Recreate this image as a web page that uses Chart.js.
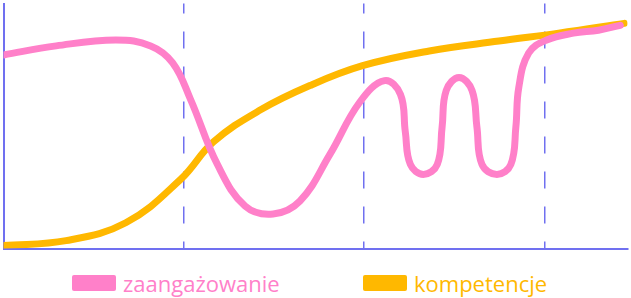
<!DOCTYPE html>
<html>
<head>
<meta charset="utf-8">
<script src="https://cdn.jsdelivr.net/npm/chart.js@4"></script>
<style>
  body { margin: 0; background: #fff; }
  #wrap { position: relative; width: 631px; height: 298px; }
  .item { position: absolute; top: 268px; display: flex; align-items: center; font-family: "Open Sans", sans-serif; font-size: 22px; }
  .box { width: 44px; height: 16px; border-radius: 2px; margin-right: 7px; }
</style>
</head>
<body>
<div id="wrap">
  <canvas id="lifeChart" width="631" height="252"></canvas>
</div>
<script>
const seriesNames = ['zaangażowanie', 'kompetencje'];
const seriesColors = ['#ff80c9', '#ffb800'];
const gridTicks = [100, 200, 300];

// zaangażowanie
const engagementX = [0, 29.2, 62.3, 81.6, 93.8, 103.7, 118.6, 134.0, 149.5, 164.4, 180.9, 197.5, 211.3, 220.1, 222.8, 225.6, 232.8, 240.5, 243.2, 245.5, 252.6, 259.8, 262.5, 265.3, 273.6, 281.3, 284.1, 285.7, 291.2, 301.2, 316.0, 329.9, 342.0];
const engagementY = [79.0, 82.7, 85.1, 82.7, 75.8, 60.9, 34.3, 17.3, 14.1, 19.4, 38.3, 59.7, 68.5, 62.9, 47.6, 34.3, 30.2, 34.3, 49.6, 64.5, 69.8, 64.5, 49.6, 34.3, 30.2, 34.3, 49.6, 65.7, 79.8, 85.1, 87.9, 89.1, 91.1];

// kompetencje
const competenceX = [0, 34.7, 67.8, 98.2, 116.4, 142.3, 169.9, 199.1, 236.1, 274.7, 307.8, 344.2];
const competenceY = [1.2, 3.2, 10.5, 28.2, 43.5, 56.5, 66.5, 74.6, 80.6, 84.7, 87.9, 91.9];

const toPoints = (xs, ys) => xs.map((x, i) => ({ x: x, y: ys[i] }));

const axisColor = '#7070f0';

const ctx = document.getElementById('lifeChart').getContext('2d');
const lifeChart = new Chart(ctx, {
    type: 'scatter',
    data: {
        datasets: [{
            label: seriesNames[0],
            data: toPoints(engagementX, engagementY),
            borderColor: seriesColors[0],
            backgroundColor: seriesColors[0],
            borderWidth: 7,
            showLine: true,
            tension: 0.4,
            pointRadius: 0,
            borderCapStyle: 'round',
            borderJoinStyle: 'round'
        }, {
            label: seriesNames[1],
            data: toPoints(competenceX, competenceY),
            borderColor: seriesColors[1],
            backgroundColor: seriesColors[1],
            borderWidth: 7,
            showLine: true,
            tension: 0.4,
            pointRadius: 0,
            borderCapStyle: 'round',
            borderJoinStyle: 'round'
        }]
    },
    options: {
        responsive: false,
        animation: false,
        layout: { padding: { left: 2, right: 2, top: 0, bottom: 3 } },
        plugins: {
            legend: { display: false },
            tooltip: { enabled: false }
        },
        scales: {
            x: {
                type: 'linear',
                min: 0,
                max: 346,
                afterBuildTicks: (scale) => { scale.ticks = gridTicks.map(v => ({ value: v })); },
                ticks: { display: false },
                grid: {
                    color: axisColor,
                    lineWidth: 1.5,
                    drawTicks: false
                },
                border: { display: true, color: axisColor, width: 2 }
            },
            y: {
                min: 0,
                max: 100,
                ticks: { display: false },
                grid: { display: false, drawTicks: false },
                border: { display: true, color: axisColor, width: 2 }
            }
        }
    }
});

// dashed vertical grid lines
lifeChart.options.scales.x.border.dash = [17, 18];
lifeChart.options.scales.x.border.dashOffset = 7;
lifeChart.update();

// legend
const legendLeft = [72, 363];
const wrap = document.getElementById('wrap');
seriesNames.forEach((name, i) => {
    const item = document.createElement('div');
    item.className = 'item';
    item.style.left = legendLeft[i] + 'px';
    item.innerHTML = '<span class="box" style="background:' + seriesColors[i] + '"></span>' +
        '<span style="color:' + seriesColors[i] + '">' + name + '</span>';
    wrap.appendChild(item);
});
</script>
</body>
</html>
